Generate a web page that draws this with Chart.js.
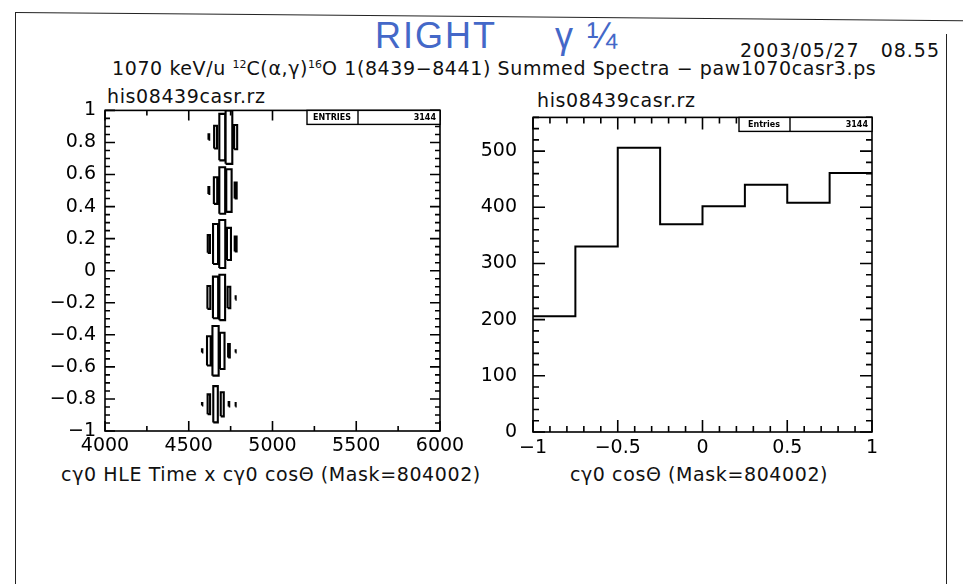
<!DOCTYPE html>
<html>
<head>
<meta charset="utf-8">
<script src="https://cdn.jsdelivr.net/npm/chart.js@4.4.0/dist/chart.umd.min.js"></script>
<style>
body { margin:0; width:963px; height:584px; background:#fff; overflow:hidden; position:relative; font-family:"DejaVu Sans", sans-serif; color:#111; }
.t { position:absolute; white-space:pre; font-size:19px; line-height:20px; letter-spacing:0.6px; }
.c { transform:translateX(-50%); }
.hand { position:absolute; white-space:pre; font-family:"Liberation Sans", sans-serif; color:#4468c8; font-size:36px; line-height:38px; letter-spacing:2px; }
.topline { position:absolute; left:15px; top:12px; width:960px; height:0; border-top:1.5px solid #222; transform:rotate(0.5deg); transform-origin:0 0; }
.leftline { position:absolute; left:15px; top:12px; width:0; height:600px; border-left:1.5px solid #222; }
.rightline { position:absolute; left:946px; top:34px; width:0; height:600px; border-left:1.5px solid #222; }
canvas { position:absolute; }
sup { font-size:11px; vertical-align:7px; letter-spacing:0; }
</style>
</head>
<body>
<div class="topline"></div>
<div class="leftline"></div>
<div class="rightline"></div>

<div class="hand" style="left:375px; top:17px;">RIGHT</div>
<div class="hand" style="left:555px; top:17px;">γ ¼</div>
<div class="t" style="left:740px; top:40px; letter-spacing:1px;">2003/05/27   08.55</div>
<div class="t" style="left:112px; top:55px;">1070 keV/u <sup>12</sup>C(α,γ)<sup>16</sup>O 1(8439−8441) Summed Spectra − paw1070casr3.ps</div>
<div class="t" style="left:107px; top:86px;">his08439casr.rz</div>
<div class="t" style="left:537px; top:90px;">his08439casr.rz</div>
<div class="t c" style="left:271px; top:464px;">cγ0 HLE Time x cγ0 cosΘ (Mask=804002)</div>
<div class="t c" style="left:699px; top:464px;">cγ0 cosΘ (Mask=804002)</div>

<canvas id="left" width="460" height="410" style="left:20px; top:90px;"></canvas>
<canvas id="right" width="450" height="410" style="left:460px; top:90px;"></canvas>

<script>
// left: HLE time x cos(theta) box plot
const timeBins = [4580, 4620, 4660, 4700, 4740, 4780];   // bin centres, 40 wide
const cosRows = [0.8333, 0.5, 0.1667, -0.1667, -0.5, -0.8333]; // bin centres, 1/3 high
const boxCounts = [
    [0, 21, 89, 181, 208, 94],
    [0, 27, 104, 181, 166, 62],
    [0, 69, 156, 187, 125, 58],
    [0, 89, 162, 177, 83, 17],
    [12, 114, 193, 141, 52, 12],
    [10, 77, 141, 94, 17, 17]
];
const timeTicks = [4000, 4500, 5000, 5500, 6000];

// right: cos(theta) histogram
const cosEdges = [-1, -0.75, -0.5, -0.25, 0, 0.25, 0.5, 0.75, 1];
const cosCounts = [206, 330, 506, 370, 402, 440, 408, 461];

const entries = 3144;

const FONT = 'DejaVu Sans';
const cellW = 40, cellH = 2 / 6;

// build box outlines in data units
const maxCount = Math.max(...boxCounts.flat());
const boxPts = [];
cosRows.forEach((cy, r) => {
    timeBins.forEach((tx, c) => {
        const n = boxCounts[r][c];
        if (!n) return;
        const f = n / maxCount;
        const hw = cellW * f / 2, hh = cellH * f / 2;
        boxPts.push({x: tx - hw, y: cy - hh}, {x: tx + hw, y: cy - hh},
                    {x: tx + hw, y: cy + hh}, {x: tx - hw, y: cy + hh},
                    {x: tx - hw, y: cy - hh}, {x: tx, y: null});
    });
});

// step outline of the histogram
const histPts = [];
cosCounts.forEach((v, i) => {
    histPts.push({x: cosEdges[i], y: v}, {x: cosEdges[i + 1], y: v});
});

function fmt(v, d) {
    const r = Math.round(v * d) / d;
    return r < 0 ? '\u2212' + Math.abs(r) : String(Math.abs(r));
}

// frame with PAW style inward ticks on all four sides
const pawFrame = {
    id: 'pawFrame',
    afterDatasetsDraw(chart, args, o) {
        const {ctx, chartArea: a, scales} = chart;
        ctx.save();
        ctx.strokeStyle = '#000';
        ctx.lineWidth = 1.6;
        ctx.strokeRect(a.left, a.top, a.right - a.left, a.bottom - a.top);
        ctx.beginPath();
        ['x', 'y'].forEach(axis => {
            const s = scales[axis];
            [[o[axis].minor, o.minorLen], [o[axis].major, o.majorLen]].forEach(([step, len]) => {
                for (let k = Math.ceil(s.min / step - 1e-6); k * step <= s.max + 1e-6; k++) {
                    const p = s.getPixelForValue(k * step);
                    if (axis === 'x') {
                        ctx.moveTo(p, a.bottom); ctx.lineTo(p, a.bottom - len);
                        ctx.moveTo(p, a.top); ctx.lineTo(p, a.top + len);
                    } else {
                        ctx.moveTo(a.left, p); ctx.lineTo(a.left + len, p);
                        ctx.moveTo(a.right, p); ctx.lineTo(a.right - len, p);
                    }
                }
            });
        });
        ctx.stroke();
        ctx.restore();
    }
};

// little ENTRIES box in the top right corner
const pawStats = {
    id: 'pawStats',
    afterDraw(chart, args, o) {
        const {ctx, chartArea: a} = chart;
        const w = 133, h = 14, x0 = a.right - w;
        ctx.save();
        ctx.fillStyle = '#fff';
        ctx.fillRect(x0, a.top, w, h);
        ctx.strokeStyle = '#000';
        ctx.lineWidth = 1.4;
        ctx.strokeRect(x0, a.top, w, h);
        ctx.beginPath();
        ctx.moveTo(x0 + 51, a.top); ctx.lineTo(x0 + 51, a.top + h);
        ctx.stroke();
        ctx.fillStyle = '#000';
        ctx.font = 'bold 8px ' + FONT;
        ctx.textBaseline = 'middle';
        ctx.textAlign = 'center';
        ctx.fillText(o.label, x0 + 25, a.top + h / 2 + 1);
        ctx.textAlign = 'right';
        ctx.fillText(String(entries), a.right - 4, a.top + h / 2 + 1);
        ctx.restore();
    }
};

function axisStyle(extra) {
    return Object.assign({
        type: 'linear',
        grid: {display: false, drawTicks: false},
        border: {display: false}
    }, extra);
}

new Chart(document.getElementById('left'), {
    type: 'scatter',
    data: {
        datasets: [{
            data: boxPts,
            showLine: true,
            borderColor: '#000',
            borderWidth: 2.1,
            pointRadius: 0,
            spanGaps: false
        }]
    },
    options: {
        responsive: false,
        animation: false,
        layout: {padding: {top: 18, right: 40, left: 0, bottom: 0}},
        plugins: {
            legend: {display: false},
            tooltip: {enabled: false},
            pawFrame: {x: {major: 500, minor: 250}, y: {major: 0.2, minor: 0.05}, majorLen: 10, minorLen: 5},
            pawStats: {label: 'ENTRIES'}
        },
        scales: {
            x: axisStyle({
                min: 4000, max: 6000,
                afterFit: s => { s.height = 69; },
                afterBuildTicks: s => { s.ticks = timeTicks.map(v => ({value: v})); },
                ticks: {color: '#000', font: {family: FONT, size: 19}, autoSkip: false, maxRotation: 0, padding: 4,
                        callback: v => String(v)}
            }),
            y: axisStyle({
                min: -1, max: 1,
                afterFit: s => { s.width = 85; },
                ticks: {color: '#000', font: {family: FONT, size: 19}, autoSkip: false, stepSize: 0.2, padding: 9,
                        callback: v => fmt(v, 10)}
            })
        }
    },
    plugins: [pawFrame, pawStats]
});

new Chart(document.getElementById('right'), {
    type: 'scatter',
    data: {
        datasets: [{
            data: histPts,
            showLine: true,
            borderColor: '#000',
            borderWidth: 2,
            pointRadius: 0
        }]
    },
    options: {
        responsive: false,
        animation: false,
        layout: {padding: {top: 22, right: 38, left: 0, bottom: 0}},
        plugins: {
            legend: {display: false},
            tooltip: {enabled: false},
            pawFrame: {x: {major: 0.5, minor: 0.1}, y: {major: 100, minor: 20}, majorLen: 12, minorLen: 6},
            pawStats: {label: 'Entries'}
        },
        scales: {
            x: axisStyle({
                min: -1, max: 1,
                afterFit: s => { s.height = 68; },
                ticks: {color: '#000', font: {family: FONT, size: 19}, autoSkip: false, maxRotation: 0, stepSize: 0.5, padding: 5,
                        callback: v => fmt(v, 10)}
            }),
            y: axisStyle({
                min: 0, max: 560,
                afterFit: s => { s.width = 73; },
                ticks: {color: '#000', font: {family: FONT, size: 19}, autoSkip: false, stepSize: 100, padding: 16, includeBounds: false,
                        callback: v => String(v)}
            })
        }
    },
    plugins: [pawFrame, pawStats]
});
</script>
</body>
</html>
